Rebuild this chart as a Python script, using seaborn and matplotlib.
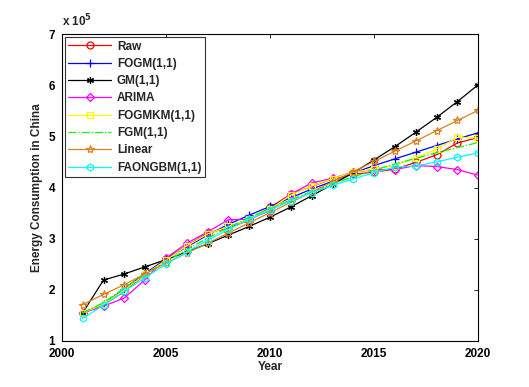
import matplotlib
matplotlib.use("Agg")
import matplotlib.pyplot as plt
import seaborn as sns
import pandas as pd

years = list(range(2001, 2021))
raw = [1.55, 1.70, 1.97, 2.30, 2.61, 2.86, 3.11, 3.21, 3.36, 3.61, 3.87, 4.02, 4.17, 4.26, 4.30, 4.36, 4.49, 4.64, 4.87, 4.98]
fogm = [1.55, 1.72, 2.02, 2.32, 2.60, 2.84, 3.07, 3.28, 3.46, 3.63, 3.80, 3.97, 4.12, 4.28, 4.43, 4.56, 4.69, 4.82, 4.95, 5.07]
gm = [1.55, 2.19, 2.31, 2.45, 2.59, 2.74, 2.90, 3.07, 3.24, 3.42, 3.62, 3.84, 4.06, 4.29, 4.54, 4.80, 5.08, 5.37, 5.68, 6.01]
arima = [1.55, 1.68, 1.84, 2.20, 2.62, 2.91, 3.13, 3.37, 3.38, 3.55, 3.87, 4.09, 4.18, 4.30, 4.35, 4.35, 4.43, 4.41, 4.35, 4.24]
fogmkm = [1.55, 1.72, 2.00, 2.30, 2.58, 2.86, 3.09, 3.24, 3.38, 3.58, 3.85, 4.03, 4.17, 4.30, 4.36, 4.43, 4.58, 4.75, 4.98, 4.97]
fgm = [1.55, 1.75, 2.03, 2.30, 2.55, 2.79, 3.01, 3.22, 3.41, 3.59, 3.76, 3.92, 4.07, 4.21, 4.34, 4.46, 4.57, 4.68, 4.78, 4.88]
linear = [1.71, 1.91, 2.10, 2.31, 2.52, 2.72, 2.91, 3.11, 3.31, 3.51, 3.71, 3.91, 4.11, 4.31, 4.51, 4.71, 4.91, 5.11, 5.31, 5.51]
faongbm = [1.44, 1.70, 1.97, 2.24, 2.50, 2.74, 2.97, 3.18, 3.38, 3.56, 3.74, 3.90, 4.04, 4.17, 4.29, 4.40, 4.42, 4.50, 4.59, 4.68]

names = ["Raw", "FOGM(1,1)", "GM(1,1)", "ARIMA", "FOGMKM(1,1)", "FGM(1,1)", "Linear", "FAONGBM(1,1)"]
series = [raw, fogm, gm, arima, fogmkm, fgm, linear, faongbm]
colors = ["#ff0000", "#0000ff", "#000000", "#ff00ff", "#ffff00", "#00ff00", "#dd8020", "#00ffff"]
markers = ["o", "+", (6, 2, 0), "D", "s", None, "*", "h"]
msizes = [5, 6, 5, 4.5, 5, 0, 6, 5]
styles = ["-", "-", "-", "-", "-", "-.", "-", "-"]

sns.set_style("white")
plt.rcParams["font.family"] = ["Liberation Sans", "DejaVu Sans"]
plt.rcParams["font.weight"] = "bold"

fig = plt.figure(figsize=(5.29, 3.87), dpi=100)
ax = fig.add_axes([0.117, 0.119, 0.787, 0.793])

for name, vals, c, m, ms, ls in zip(names, series, colors, markers, msizes, styles):
    df = pd.DataFrame({"Year": years, "Value": vals})
    kw = dict(color=c, linestyle=ls, linewidth=0.9, label=name)
    if m is not None:
        kw.update(marker=m, markersize=ms, markerfacecolor="none", markeredgecolor=c, markeredgewidth=0.9)
    sns.lineplot(data=df, x="Year", y="Value", ax=ax, **kw)

ax.set_xlim(2000, 2020)
ax.set_ylim(1, 7)
ax.set_xticks([2000, 2005, 2010, 2015, 2020])
ax.set_yticks([1, 2, 3, 4, 5, 6, 7])
ax.tick_params(direction="in", length=3, width=0.6, top=True, right=True, labelsize=8.5, colors="black")
ax.tick_params(axis="x", pad=5)
ax.tick_params(axis="y", pad=5)
for lab in ax.get_xticklabels() + ax.get_yticklabels():
    lab.set_fontweight("bold")
for s in ax.spines.values():
    s.set_color("black")
    s.set_linewidth(0.8)
ax.set_xlabel("Year", fontsize=8.5, fontweight="bold", labelpad=1)
ax.set_ylabel("Energy Consumption in China", fontsize=8.5, fontweight="bold", labelpad=4)
ax.text(0.0, 1.015, r"x 10$^5$", transform=ax.transAxes, fontsize=8.5, fontweight="bold", va="bottom", ha="left")

leg = ax.legend(loc="upper left", fontsize=8.5, frameon=True, fancybox=False, edgecolor="black",
                handlelength=3.6, borderaxespad=0.25, labelspacing=0.45, borderpad=0.3, handletextpad=0.5)
leg.get_frame().set_linewidth(0.8)
for t in leg.get_texts():
    t.set_fontweight("bold")

fig.savefig("out.png", dpi=100)
